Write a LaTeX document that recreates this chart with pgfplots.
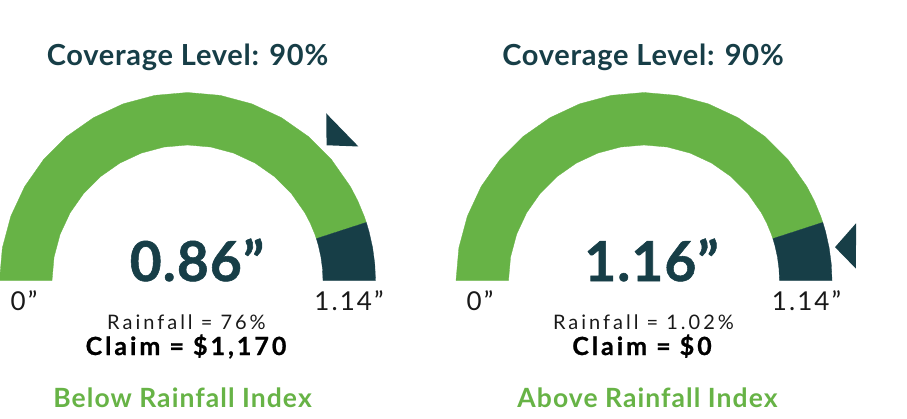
\documentclass[border=0pt]{standalone}
\usepackage{pgfplots}
\pgfplotsset{compat=1.18}
\usepackage{pgfplotstable}
\usepackage{fontspec}
\setmainfont{Lato}
\newfontfamily\titlefont[LetterSpace=2.5]{Lato}
\newfontfamily\bigfont[LetterSpace=2,BoldFeatures={FakeBold=1}]{Lato}
\newfontfamily\endfont[LetterSpace=8]{Lato}
\newfontfamily\rainfont[LetterSpace=15]{Lato}
\newfontfamily\claimfont[LetterSpace=12,BoldFeatures={FakeBold=0.8}]{Lato}
\newfontfamily\indexfont[LetterSpace=4]{Lato}
\definecolor{gGreen}{HTML}{67B346}
\definecolor{gDark}{HTML}{173E47}

% gauge rings: angle (deg), radius (px); 0" at 180 deg, 1.14" at 0 deg
% coverage 90% -> dark band from 18 deg down to 0 deg
\pgfplotstableread{
a r
180 188
170 188
160 188
150 188
140 188
130 188
120 188
110 188
100 188
90 188
80 188
70 188
60 188
50 188
40 188
30 188
25 188
20 188
18 188
18 135.5
20 135.5
25 135.5
30 135.5
40 135.5
50 135.5
60 135.5
70 135.5
80 135.5
90 135.5
100 135.5
110 135.5
120 135.5
130 135.5
140 135.5
150 135.5
160 135.5
170 135.5
180 135.5
}\greenring
\pgfplotstableread{
a r
18 188
15 188
10 188
5 188
0 188
0 135.5
5 135.5
10 135.5
15 135.5
18 135.5
}\darkring
% pointers
\pgfplotstableread{
a r
44.2 194
50.3 217.2
38.1 217.2
}\pointerA
\pgfplotstableread{
a r
9.9 193.9
15.1 219.6
3.2 212.3
}\pointerB

\pgfplotsset{gauge/.style={
  x=1pt, y=1pt, xmin=-230, xmax=230, ymin=-10, ymax=230,
  hide axis, clip=false, anchor=south west}}

\begin{document}
\begin{tikzpicture}[x=1pt,y=1pt]
\useasboundingbox (0,0) rectangle (907,418);
\clip (0,0) rectangle (907,418);

\begin{axis}[gauge, at={(-42.5,127.5)}]
  \addplot[fill=gGreen, draw=gGreen, line width=0.3pt, data cs=polar] table[x=a,y=r] {\greenring} -- cycle;
  \addplot[fill=gDark, draw=gDark, line width=0.3pt, data cs=polar] table[x=a,y=r] {\darkring} -- cycle;
  \addplot[fill=gDark, draw=none, data cs=polar] table[x=a,y=r] {\pointerA} -- cycle;
\end{axis}

\begin{axis}[gauge, at={(414,127.5)}]
  \addplot[fill=gGreen, draw=gGreen, line width=0.3pt, data cs=polar] table[x=a,y=r] {\greenring} -- cycle;
  \addplot[fill=gDark, draw=gDark, line width=0.3pt, data cs=polar] table[x=a,y=r] {\darkring} -- cycle;
  \addplot[fill=gDark, draw=none, data cs=polar] table[x=a,y=r] {\pointerB} -- cycle;
\end{axis}

% titles
\node[anchor=base, text=gDark, font=\fontsize{29}{31}\selectfont\titlefont\bfseries] at (187.5,352) {Coverage Level: 90\%};
\node[anchor=base, text=gDark, font=\fontsize{29}{31}\selectfont\titlefont\bfseries] at (643,352) {Coverage Level: 90\%};

% big values
\node[anchor=base, text=gDark, font=\fontsize{55}{57}\selectfont\bigfont\bfseries] at (197,137) {0.86”};
\node[anchor=base, text=gDark, font=\fontsize{55}{57}\selectfont\bigfont\bfseries] at (651.5,137) {1.16”};

% scale ends
\node[anchor=base, text=black!90, font=\fontsize{26}{28}\selectfont\endfont] at (24,108) {0”};
\node[anchor=base, text=black!90, font=\fontsize{26}{28}\selectfont\endfont] at (349,108) {1.14”};
\node[anchor=base, text=black!90, font=\fontsize{26}{28}\selectfont\endfont] at (480,108) {0”};
\node[anchor=base, text=black!90, font=\fontsize{26}{28}\selectfont\endfont] at (806.5,108) {1.14”};

% rainfall and claim
\node[anchor=base, text=black!90, font=\fontsize{20}{22}\selectfont\rainfont] at (186.5,89) {Rainfall = 76\%};
\node[anchor=base, text=black!90, font=\fontsize{20}{22}\selectfont\rainfont] at (643.5,89) {Rainfall = 1.02\%};
\node[anchor=base, text=black, font=\fontsize{25}{27}\selectfont\claimfont\bfseries] at (186,63) {Claim = \$1,170};
\node[anchor=base, text=black, font=\fontsize{25}{27}\selectfont\claimfont\bfseries] at (642,63) {Claim = \$0};

% verdicts
\node[anchor=base, text=gGreen, font=\fontsize{26.5}{28}\selectfont\indexfont\bfseries] at (182.5,11) {Below Rainfall Index};
\node[anchor=base, text=gGreen, font=\fontsize{26.5}{28}\selectfont\indexfont\bfseries] at (647.5,11) {Above Rainfall Index};
\end{tikzpicture}
\end{document}
